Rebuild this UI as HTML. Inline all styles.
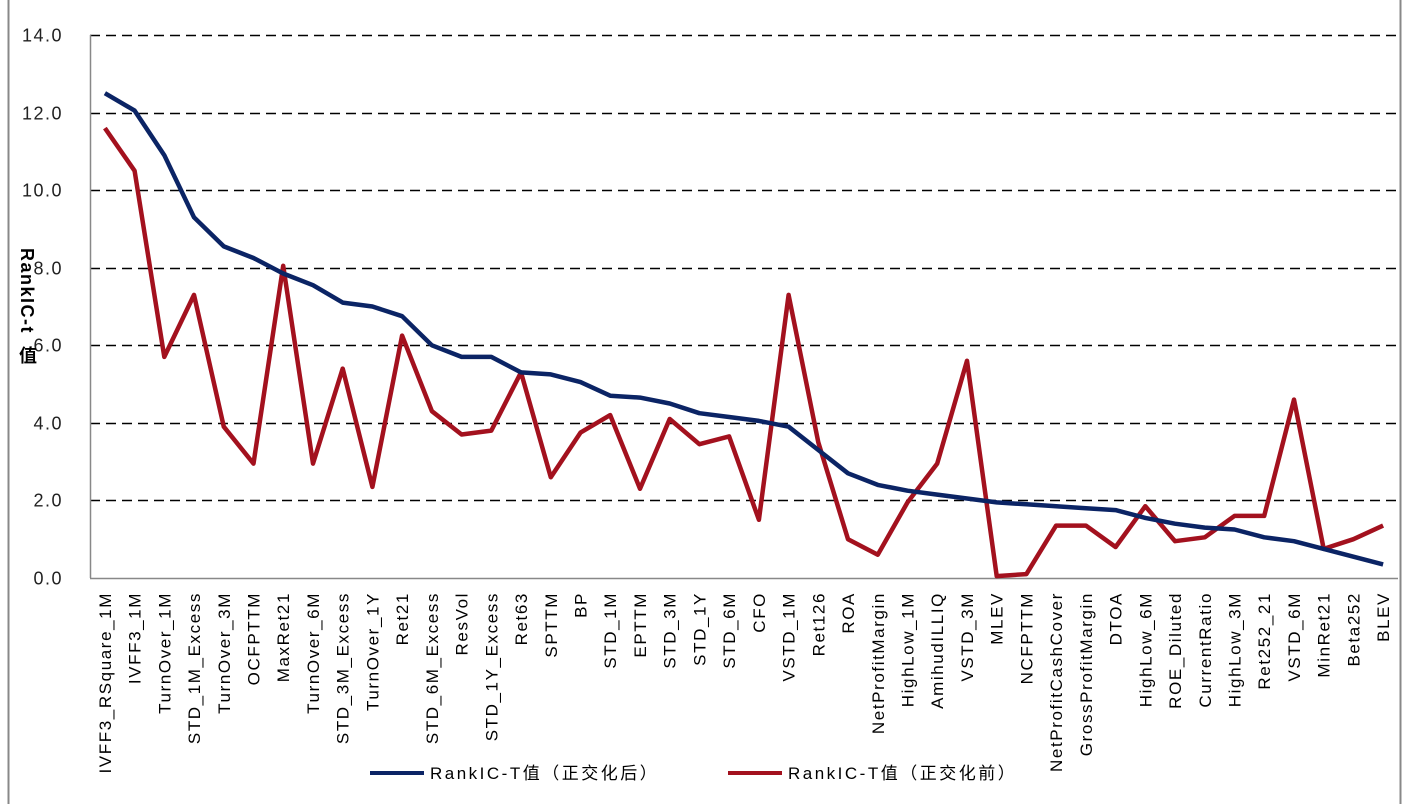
<!DOCTYPE html>
<html><head><meta charset="utf-8"><style>
body{margin:0;background:#fff;width:1404px;height:804px;overflow:hidden}
svg text{font-family:"Liberation Sans","Noto Sans CJK SC",sans-serif}
</style></head><body>
<svg id="chart" width="1404" height="804">
<line x1="8.5" y1="0" x2="8.5" y2="804" stroke="#888" stroke-width="2"/>
<line x1="1400.5" y1="0" x2="1400.5" y2="804" stroke="#888" stroke-width="2"/>
<g id="grid"></g><g id="ylabels"></g><g id="xlabels"></g><g id="series"></g>
<text transform="translate(21,248) rotate(90)" font-size="18" font-weight="bold" letter-spacing="1.5" fill="#000">RankIC-t</text>
<text x="19" y="362" font-size="18" font-weight="bold" fill="#000">值</text>
<g>
<line x1="370" y1="773" x2="424" y2="773" stroke="#0b2465" stroke-width="4"/>
<text x="430" y="779" font-size="17" letter-spacing="2.5">RankIC-T值（正交化后）</text>
<line x1="728" y1="773" x2="782" y2="773" stroke="#a3111e" stroke-width="4"/>
<text x="788" y="779" font-size="17" letter-spacing="2.5">RankIC-T值（正交化前）</text>
</g>
</svg>
<script>
const categories=["IVFF3_RSquare_1M","IVFF3_1M","TurnOver_1M","STD_1M_Excess","TurnOver_3M","OCFPTTM","MaxRet21","TurnOver_6M","STD_3M_Excess","TurnOver_1Y","Ret21","STD_6M_Excess","ResVol","STD_1Y_Excess","Ret63","SPTTM","BP","STD_1M","EPTTM","STD_3M","STD_1Y","STD_6M","CFO","VSTD_1M","Ret126","ROA","NetProfitMargin","HighLow_1M","AmihudILLIQ","VSTD_3M","MLEV","NCFPTTM","NetProfitCashCover","GrossProfitMargin","DTOA","HighLow_6M","ROE_Diluted","CurrentRatio","HighLow_3M","Ret252_21","VSTD_6M","MinRet21","Beta252","BLEV"];
const afterValues=[12.5,12.05,10.9,9.3,8.55,8.25,7.85,7.55,7.1,7.0,6.75,6.0,5.7,5.7,5.3,5.25,5.05,4.7,4.65,4.5,4.25,4.15,4.05,3.9,3.3,2.7,2.4,2.25,2.15,2.05,1.95,1.9,1.85,1.8,1.75,1.55,1.4,1.3,1.25,1.05,0.95,0.75,0.55,0.35];
const beforeValues=[11.6,10.5,5.7,7.3,3.9,2.95,8.05,2.95,5.4,2.35,6.25,4.3,3.7,3.8,5.3,2.6,3.75,4.2,2.3,4.1,3.45,3.65,1.5,7.3,3.5,1.0,0.6,1.95,2.95,5.6,0.05,0.1,1.35,1.35,0.8,1.85,0.95,1.05,1.6,1.6,4.6,0.75,1.0,1.35];
const yTicks=["0.0","2.0","4.0","6.0","8.0","10.0","12.0","14.0"];
const L=90,R=1398,T=35,B=578,yMax=14;
const step=(R-L)/categories.length;
const xs=i=>L+step*(i+0.5);
const ys=v=>B-(v/yMax)*(B-T);
const NS="http://www.w3.org/2000/svg";
function mk(tag,attrs,parent){const e=document.createElementNS(NS,tag);for(const k in attrs)e.setAttribute(k,attrs[k]);parent.appendChild(e);return e;}
const grid=document.getElementById('grid'),yl=document.getElementById('ylabels'),xl=document.getElementById('xlabels'),se=document.getElementById('series');
yTicks.forEach(t=>{const v=parseFloat(t),y=Math.round(ys(v))+0.5;
 if(v>0){const g=mk('line',{x1:L,x2:R,y1:y,y2:y,stroke:'#000','stroke-width':1.6,'stroke-dasharray':'10,6'},grid);
 
 }
 const tx=mk('text',{x:63,y:y+6,'text-anchor':'end','font-size':18,'letter-spacing':1.5,fill:'#222'},yl);tx.textContent=t;
 
 
});
const ax=mk('line',{x1:L+0.5,x2:L+0.5,y1:T,y2:B,stroke:'#888','stroke-width':1.5},grid);


const bx=mk('line',{x1:L,x2:R,y1:B+0.5,y2:B+0.5,stroke:'#888','stroke-width':1.5},grid);


categories.forEach((c,i)=>{const x=xs(i)+6;
 const t=mk('text',{transform:`translate(${x},592) rotate(-90)`,'text-anchor':'end','font-size':17,'letter-spacing':1.6,fill:'#000'},xl);t.textContent=c;
 
 
});
function line(vals,color,name){const d=vals.map((v,i)=>(i?'L':'M')+xs(i).toFixed(1)+','+ys(v).toFixed(1)).join('');
 const p=mk('path',{d:d,fill:'none',stroke:color,'stroke-width':4.5,'stroke-linejoin':'round'},se);
 
 }
line(beforeValues,'#a3111e','series-before-orthogonal');
line(afterValues,'#0b2465','series-after-orthogonal');
</script>
</body></html>
